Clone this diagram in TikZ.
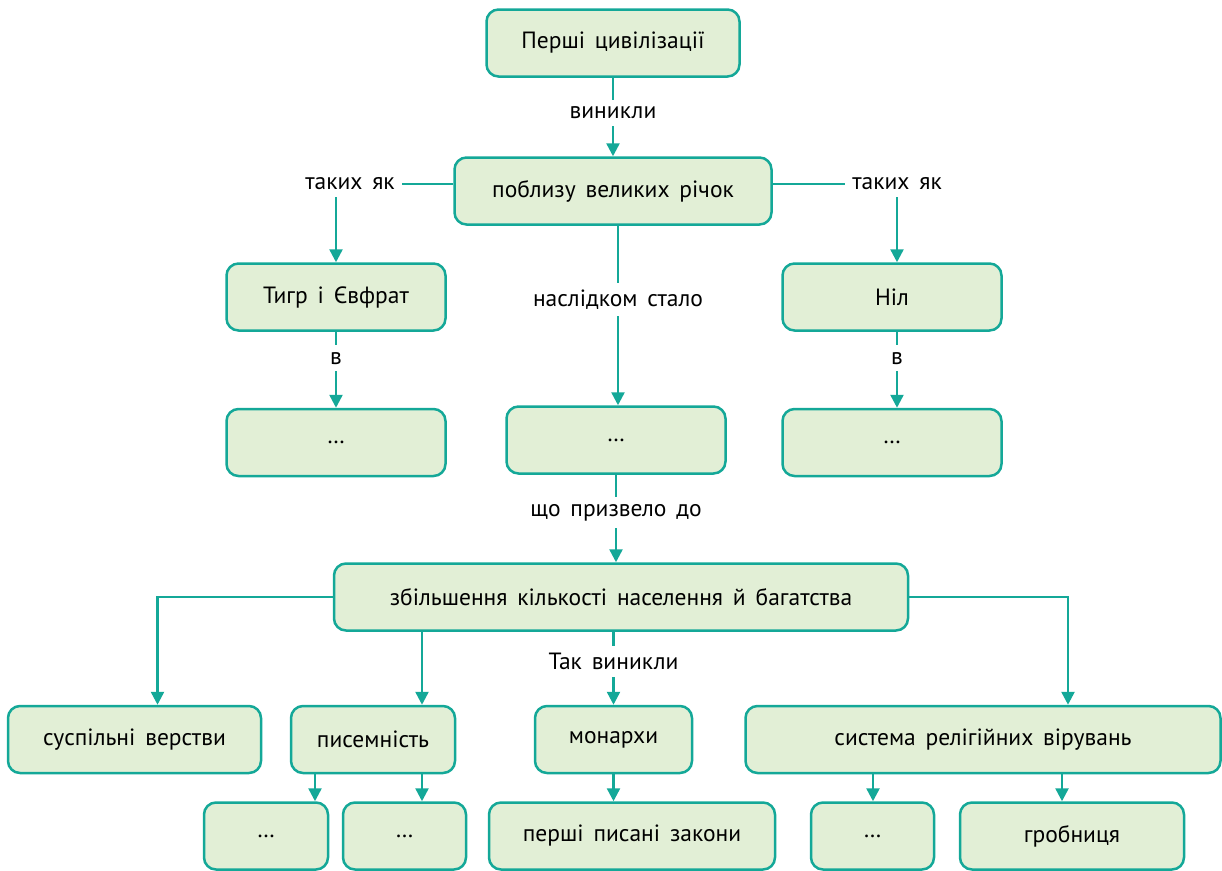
\documentclass[tikz,border=0pt]{standalone}
\usepackage{fontspec}
\setmainfont{PT Sans}
\usetikzlibrary{positioning}
\usetikzlibrary{shapes,arrows,arrows.meta}

\definecolor{teal1}{HTML}{14A898}
\definecolor{boxfill}{HTML}{E2EFD6}

\newcommand\diagfont{\fontsize{23.5}{28}\selectfont\spaceskip 0.42em\relax}

\tikzset{
	txt/.style={font=\diagfont},
	box/.style={txt, draw=teal1, fill=boxfill, line width=2.5pt, rounded corners=12pt,
		minimum height=67pt, inner sep=0pt},
	lab/.style={txt, fill=white, inner sep=7pt},
	conn/.style={draw=teal1, line width=2.5pt, -{Triangle[length=13pt,width=13pt]}},
}

\begin{document}
\begin{tikzpicture}[x=1pt, y=-1pt]
	\useasboundingbox (0,0) rectangle (1222,870);

	\node[box, minimum width=253pt] (civ) at (613,43) {Перші цивілізації};
	\node[box, minimum width=317pt] (pob) at (613,191) {поблизу великих річок};
	\node[box, minimum width=219pt] (tigr) at (336,297) {Тигр і Євфрат};
	\node[box, minimum width=219pt] (nil) at (892,297) {Ніл};
	\node[box, minimum width=219pt] (dtigr) [below=76pt of tigr] {\dots};
	\node[box, minimum width=219pt] (dmid) at (616,440) {\dots};
	\node[box, minimum width=219pt] (dnil) [below=76pt of nil] {\dots};
	\node[box, minimum width=574pt] (zb) at (621,597) {збільшення кількості населення й багатства};

	\node[box, minimum width=253pt] (susp) at (134.5,739.5) {суспільні верстви};
	\node[box, minimum width=164pt] (pys) at (373,739.5) {писемність};
	\node[box, minimum width=157pt] (mon) at (613.5,739.5) {монархи};
	\node[box, minimum width=475pt] (syst) at (983,739.5) {система релігійних вірувань};

	\node[box, minimum width=124pt] (dpys1) at (266,836) {\dots};
	\node[box, minimum width=123pt] (dpys2) at (404.5,836) {\dots};
	\node[box, minimum width=286pt] (zak) at (632,836) {перші писані закони};
	\node[box, minimum width=123pt] (dsys) at (872.5,836) {\dots};
	\node[box, minimum width=224pt] (grob) at (1072,836) {гробниця};

	\path [conn] (civ) -- node[lab, pos=0.45] {виникли} (pob);
	\path [conn] ([yshift=7pt]pob.west) -| node[lab, xshift=14pt] {таких як} (tigr.north);
	\path [conn] ([yshift=7pt]pob.east) -| node[lab] {таких як} ([xshift=5pt]nil.north);
	\path [conn] (tigr) -- node[lab, pos=0.35] {в} (dtigr);
	\path [conn] ([xshift=5pt]nil.south) -- node[lab, pos=0.35] {в} ([xshift=5pt]dnil.north);
	\path [conn] ([xshift=5pt]pob.south) -- node[lab, pos=0.41] {наслідком стало} ([xshift=2pt]dmid.north);
	\path [conn] (dmid) -- node[lab, pos=0.43] {що призвело до} (dmid |- zb.north);

	\path [conn] (zb.west) -| ([xshift=23pt]susp.north);
	\path [conn] ([xshift=49pt]pys.north |- zb.south) -- ([xshift=49pt]pys.north);
	\path [conn] (mon |- zb.south) -- node[lab, pos=0.41] {Так виникли} (mon);
	\path [conn] (zb.east) -| ([xshift=85pt]syst.north);

	\path [conn] ([xshift=-58pt]pys.south) -- ([xshift=-58pt]pys.south |- dpys1.north);
	\path [conn] ([xshift=49pt]pys.south) -- ([xshift=49pt]pys.south |- dpys2.north);
	\path [conn] (mon) -- (mon |- zak.north);
	\path [conn] ([xshift=-110pt]syst.south) -- ([xshift=-110pt]syst.south |- dsys.north);
	\path [conn] ([xshift=79pt]syst.south) -- ([xshift=79pt]syst.south |- grob.north);
\end{tikzpicture}
\end{document}
